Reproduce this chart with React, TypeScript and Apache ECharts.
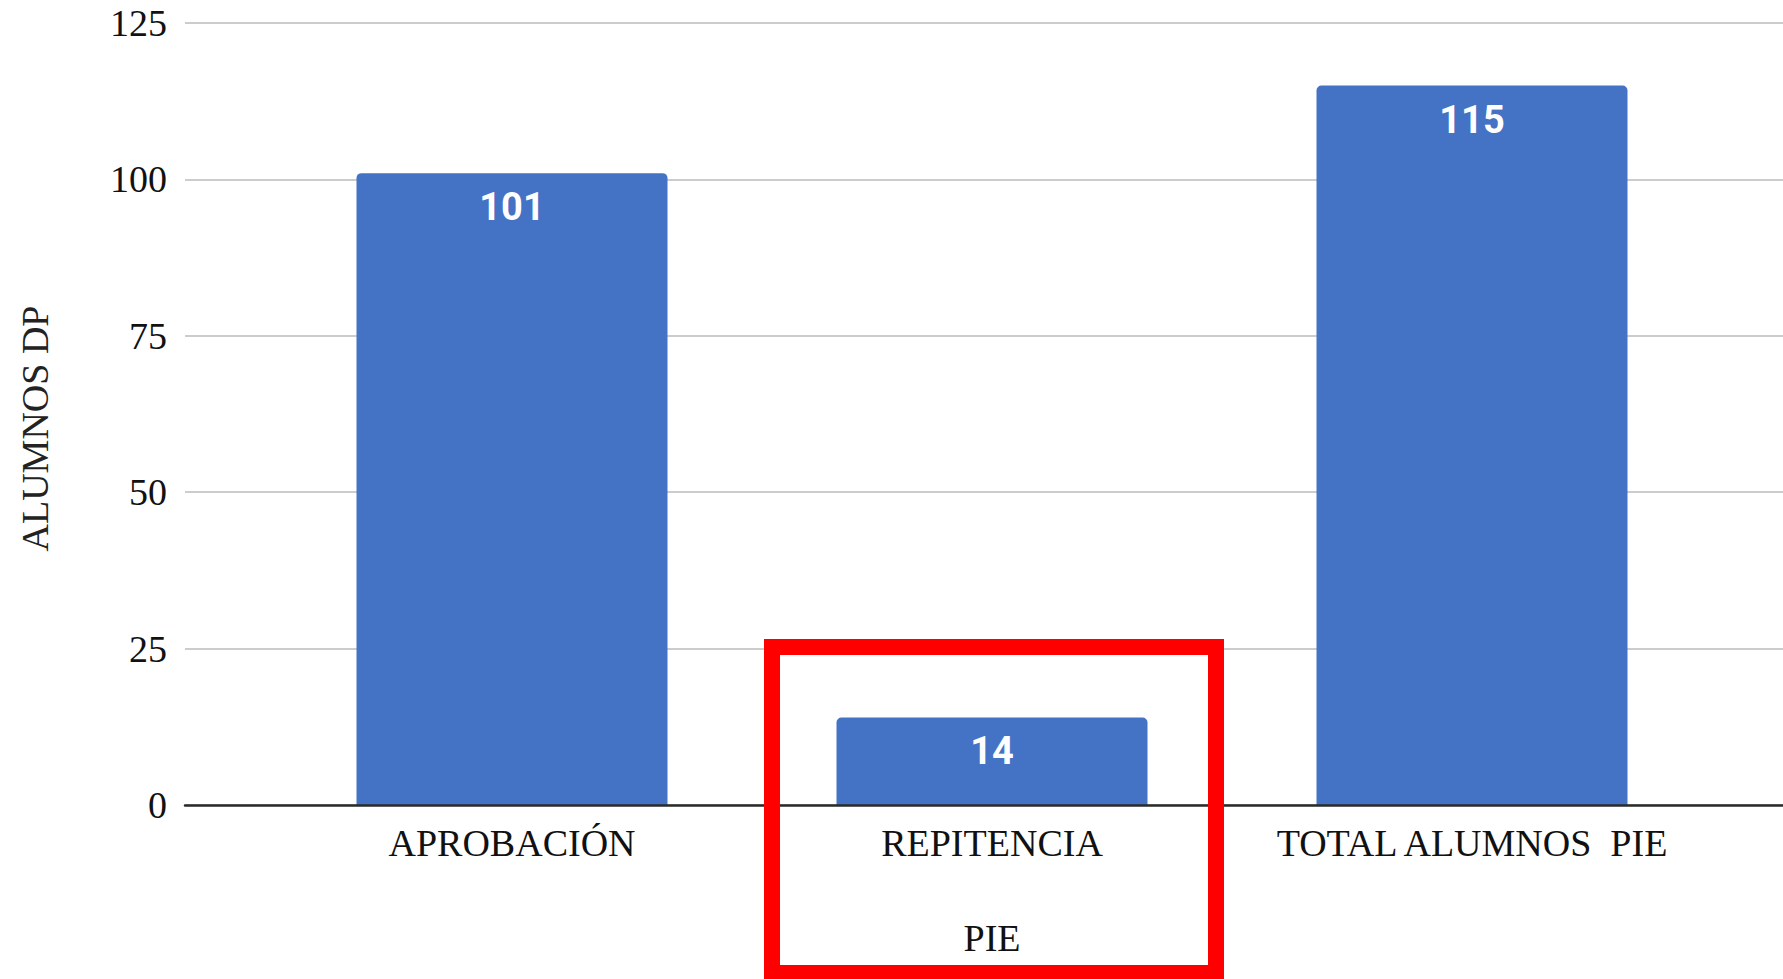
import React, { useEffect, useRef } from "react";
import * as echarts from "echarts";

const categories = ["APROBACIÓN", "REPITENCIA\n\nPIE", "TOTAL ALUMNOS  PIE"];
const values = [101, 14, 115];
const yTicks = { min: 0, max: 125, interval: 25 };
const yAxisName = "ALUMNOS DP";

export default function App() {
  const ref = useRef<HTMLDivElement>(null);
  useEffect(() => {
    if (!ref.current) return;
    const chart = echarts.init(ref.current, undefined, { renderer: "svg" });
    const serif = "'Liberation Serif', 'Times New Roman', serif";
    chart.setOption({
      animation: false,
      backgroundColor: "#ffffff",
      grid: [
        { left: 185, top: 23, width: 1598, height: 782 },
        { left: 272, top: 23, width: 1440, height: 782 },
      ],
      xAxis: [
        {
          gridIndex: 0,
          type: "category",
          data: [""],
          axisLine: { show: true, lineStyle: { color: "#2a2a2a", width: 2.5 } },
          axisTick: { show: false },
          axisLabel: { show: false },
          z: 5,
        },
        {
          gridIndex: 1,
          type: "category",
          data: categories,
          axisLine: { show: false },
          axisTick: { show: false },
          axisLabel: {
            show: true,
            interval: 0,
            margin: 14,
            color: "#111111",
            fontFamily: serif,
            fontSize: 38,
            lineHeight: 47.5,
          },
        },
      ],
      yAxis: [
        {
          gridIndex: 0,
          type: "value",
          min: yTicks.min,
          max: yTicks.max,
          interval: yTicks.interval,
          axisLine: { show: false },
          axisTick: { show: false },
          splitLine: { show: true, lineStyle: { color: "#cccccc", width: 2 } },
          axisLabel: {
            margin: 18,
            color: "#111111",
            fontFamily: serif,
            fontSize: 38,
          },
          name: yAxisName,
          nameLocation: "middle",
          nameGap: 131,
          nameTextStyle: {
            color: "#222222",
            fontFamily: serif,
            fontSize: 38,
            padding: [0, 29, 0, 0],
          },
        },
        {
          gridIndex: 1,
          type: "value",
          min: yTicks.min,
          max: yTicks.max,
          interval: yTicks.interval,
          show: false,
          splitLine: { show: false },
        },
      ],
      series: [
        {
          type: "bar",
          xAxisIndex: 1,
          yAxisIndex: 1,
          data: values,
          barWidth: 311,
          itemStyle: { color: "#4472c4", borderRadius: [5, 5, 0, 0] },
          label: {
            show: true,
            position: "insideTop",
            distance: 15,
            color: "#ffffff",
            fontFamily: "Roboto, sans-serif",
            fontWeight: "bold",
            fontSize: 38,
          },
        },
      ],
      graphic: [
        {
          type: "rect",
          z: 100,
          shape: { x: 772, y: 647, width: 444, height: 326 },
          style: { fill: "none", stroke: "#ff0000", lineWidth: 16 },
        },
      ],
    });
    return () => chart.dispose();
  }, []);
  return (
    <div
      ref={ref}
      style={{ position: "absolute", left: 0, top: 0, width: 1783, height: 979 }}
    />
  );
}
